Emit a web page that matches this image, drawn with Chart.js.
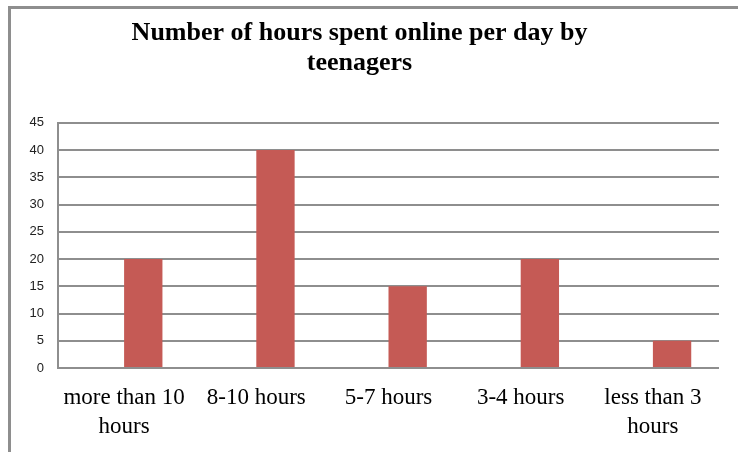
<!DOCTYPE html>
<html>
<head>
<meta charset="utf-8">
<script src="https://cdn.jsdelivr.net/npm/chart.js@4.4.1/dist/chart.umd.min.js"></script>
<style>
  html, body { margin: 0; padding: 0; background: #fff; overflow: hidden; }
  #wrap { position: relative; width: 738px; height: 452px; }
  #frame { position: absolute; left: 8px; top: 6px; width: 800px; height: 500px;
           border-left: 3px solid #8e8e8e; border-top: 3px solid #8e8e8e; pointer-events: none; }
</style>
</head>
<body>
<div id="wrap">
  <canvas id="c" width="738" height="452"></canvas>
  <div id="frame"></div>
</div>
<script>
const titleLines = ["Number of hours spent online per day by", "teenagers"];
const categories = [["more than 10", "hours"], "8-10 hours", "5-7 hours", "3-4 hours", ["less than 3", "hours"]];
const emptySeries = [null, null, null, null, null];
const teenHours = [20, 40, 15, 20, 5];
const yTicks = [0, 5, 10, 15, 20, 25, 30, 35, 40, 45];

const gridGray = '#8e8e8e';
const barRed = '#c55a55';

new Chart(document.getElementById('c'), {
  type: 'bar',
  data: {
    labels: categories,
    datasets: [
      { label: '', data: emptySeries, backgroundColor: barRed },
      { label: 'Teenagers', data: teenHours, backgroundColor: barRed }
    ]
  },
  options: {
    responsive: false,
    animation: false,
    devicePixelRatio: 1,
    categoryPercentage: 0.58,
    barPercentage: 1.0,
    layout: { padding: { left: 0, right: 19, top: 0, bottom: 0 } },
    plugins: {
      legend: { display: false },
      tooltip: { enabled: false },
      title: {
        display: true,
        text: titleLines,
        color: '#000',
        font: { family: 'Liberation Serif', size: 26, weight: 'bold', lineHeight: 1.17 },
        padding: { top: 18, bottom: 44 }
      }
    },
    scales: {
      x: {
        grid: { display: false, drawTicks: false },
        border: { display: false },
        ticks: {
          color: '#000',
          padding: 15,
          maxRotation: 0,
          autoSkip: false,
          font: { family: 'Liberation Serif', size: 23, lineHeight: 1.27 }
        },
        afterFit: (s) => { s.height = 84; }
      },
      y: {
        min: 0,
        max: 45,
        afterBuildTicks: (s) => { s.ticks = yTicks.map(v => ({ value: v })); },
        grid: { color: gridGray, lineWidth: 2, drawTicks: false },
        border: { display: true, color: gridGray, width: 2 },
        ticks: {
          color: '#222',
          padding: 14,
          font: { family: 'Liberation Sans', size: 13 }
        },
        afterFit: (s) => { s.width = 58; }
      }
    }
  }
});
</script>
</body>
</html>
